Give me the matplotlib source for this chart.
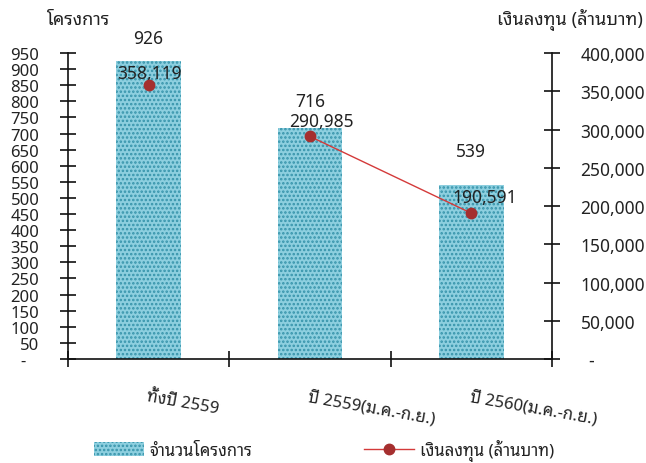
import matplotlib
matplotlib.use('Agg')
import matplotlib.pyplot as plt
from matplotlib.ticker import FixedLocator, FuncFormatter
import matplotlib.patches as mpatches
from matplotlib.lines import Line2D

plt.rcParams['font.family'] = ['Noto Sans Thai Looped', 'DejaVu Sans']
plt.rcParams['hatch.linewidth'] = 1.2

categories = ['ทั้งปี 2559', 'ปี 2559(ม.ค.-ก.ย.)', 'ปี 2560(ม.ค.-ก.ย.)']
projects = [926, 716, 539]
investment = [358119, 290985, 190591]
left_title = 'โครงการ'
right_title = 'เงินลงทุน (ล้านบาท)'
legend_bar = 'จำนวนโครงการ'
legend_line = 'เงินลงทุน (ล้านบาท)'

bar_fc = '#8dcfdf'
bar_hc = '#3693aa'
line_c = '#d43a3a'
mark_c = '#a52f2f'

fig = plt.figure(figsize=(6.46, 4.64), dpi=100)
ax = fig.add_axes([0.105, 0.2241, 0.7495, 0.6595])
ax2 = ax.twinx()

x = list(range(len(categories)))
ax.bar(x, projects, width=0.4, color=bar_fc, edgecolor=bar_hc, hatch='....', linewidth=0, zorder=2)
# line joins only the two Jan-Sep periods; the full-year point stands alone
ax2.plot(x[1:], investment[1:], color=line_c, linewidth=1.0, zorder=3)
ax2.plot(x, investment, linestyle='none', marker='o', markersize=7.5,
         markerfacecolor=mark_c, markeredgecolor=mark_c, zorder=4)

ax.set_xlim(-0.5, 2.5)
ax.set_ylim(0, 950)
ax2.set_ylim(0, 400000)

ax.yaxis.set_major_locator(FixedLocator(list(range(0, 951, 50))))
ax.yaxis.set_major_formatter(FuncFormatter(lambda v, p: '-   ' if v == 0 else f'{int(v)}'))
ax2.yaxis.set_major_locator(FixedLocator(list(range(0, 400001, 50000))))
ax2.yaxis.set_major_formatter(FuncFormatter(lambda v, p: '  -' if v == 0 else f'{int(v):,}'))

ax.set_xticks([-0.5, 0.5, 1.5, 2.5])
ax.set_xticklabels([])
for i, c in enumerate(categories):
    ax.annotate(c, xy=(i, 0), xycoords=('data', 'axes fraction'), xytext=(0, -21),
                textcoords='offset points', rotation=-10, rotation_mode='anchor',
                ha='left', va='top', fontsize=12, color='#222222')

for a in (ax, ax2):
    for s in a.spines.values():
        s.set_visible(False)
ax.spines['left'].set_visible(True)
ax.spines['bottom'].set_visible(True)
ax2.spines['right'].set_visible(True)
for s in (ax.spines['left'], ax.spines['bottom'], ax2.spines['right']):
    s.set_linewidth(1.2)
    s.set_color('#111111')

ax.tick_params(axis='y', direction='inout', length=11, width=1.2, pad=15, labelsize=12, colors='#111111', labelcolor='#222222')
ax.tick_params(axis='x', direction='inout', length=11, width=1.2, colors='#111111')
ax2.tick_params(axis='y', direction='inout', length=11, width=1.2, pad=15, labelsize=12.5, colors='#111111', labelcolor='#222222')

bar_offsets = [16.5, 20, 25]
for i, v in enumerate(projects):
    ax.annotate(f'{v}', xy=(i, v), xytext=(0, bar_offsets[i]), textcoords='offset points',
                ha='center', va='center', fontsize=12.5, color='#222222')
line_offsets = [(1, 8.5), (8.5, 11), (10, 12)]
for i, v in enumerate(investment):
    ax2.annotate(f'{v:,}', xy=(i, v), xytext=line_offsets[i], textcoords='offset points',
                 ha='center', va='center', fontsize=12.5, color='#222222')

fig.text(110/646, 1-20/464, left_title, ha='right', va='center', fontsize=13, color='#222222')
fig.text(643/646, 1-20/464, right_title, ha='right', va='center', fontsize=13, color='#222222')

h1 = mpatches.Patch(facecolor=bar_fc, edgecolor=bar_hc, hatch='....', linewidth=0)
h2 = Line2D([], [], color=line_c, linewidth=1.0, marker='o', markersize=7.5,
            markerfacecolor=mark_c, markeredgecolor=mark_c)
fig.legend([h1, h2], [legend_bar, legend_line], loc='center', bbox_to_anchor=(324/646, 1-451/464),
           ncol=2, frameon=False, fontsize=12, handlelength=3.0, handleheight=0.9,
           columnspacing=6.7, handletextpad=0.35, labelcolor='#222222')

fig.savefig('out.png', dpi=100)
